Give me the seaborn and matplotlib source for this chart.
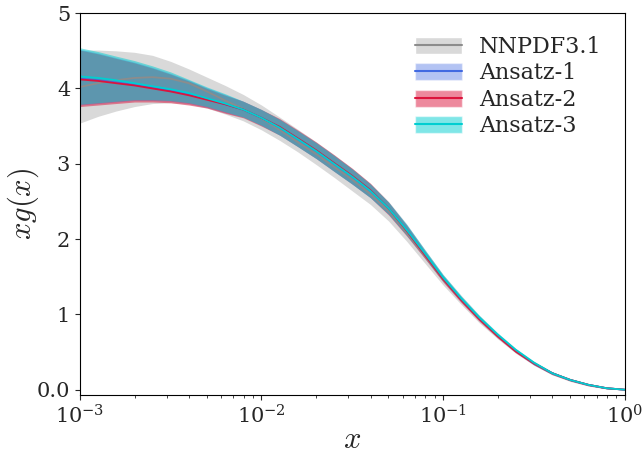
import numpy as np
import pandas as pd
import matplotlib
matplotlib.use("Agg")
import matplotlib.pyplot as plt
import seaborn as sns
from matplotlib.patches import Patch
from matplotlib.lines import Line2D

# x grid (log spaced) and values
x = [0.001, 0.00126, 0.00158, 0.002, 0.00251, 0.00316, 0.00398, 0.00501, 0.00631, 0.00794,
     0.01, 0.0126, 0.0158, 0.02, 0.0251, 0.0316, 0.0398, 0.0501, 0.0631, 0.0794,
     0.1, 0.126, 0.158, 0.2, 0.251, 0.316, 0.398, 0.501, 0.631, 0.794, 1.0]

nnpdf_mid = [4.02, 4.07, 4.11, 4.14, 4.15, 4.13, 4.07, 3.96, 3.84, 3.73, 3.60, 3.45, 3.29, 3.13, 2.96, 2.79,
             2.60, 2.37, 2.08, 1.77, 1.46, 1.19, 0.94, 0.71, 0.51, 0.35, 0.22, 0.13, 0.065, 0.02, 0.0]
nnpdf_up = [4.51, 4.51, 4.50, 4.48, 4.44, 4.36, 4.26, 4.15, 4.04, 3.92, 3.78, 3.62, 3.46, 3.29, 3.12, 2.94,
            2.74, 2.50, 2.20, 1.86, 1.53, 1.25, 0.99, 0.75, 0.545, 0.375, 0.24, 0.15, 0.08, 0.03, 0.0]
nnpdf_lo = [3.54, 3.63, 3.70, 3.76, 3.80, 3.81, 3.79, 3.74, 3.66, 3.57, 3.45, 3.31, 3.16, 2.99, 2.82, 2.64,
            2.46, 2.24, 1.97, 1.68, 1.39, 1.13, 0.89, 0.675, 0.485, 0.325, 0.20, 0.11, 0.05, 0.01, 0.0]

a1_mid = [4.13, 4.11, 4.08, 4.05, 4.01, 3.97, 3.92, 3.86, 3.79, 3.72, 3.61, 3.48, 3.33, 3.17, 3.00, 2.83,
          2.64, 2.41, 2.12, 1.80, 1.48, 1.20, 0.95, 0.72, 0.52, 0.35, 0.22, 0.13, 0.065, 0.02, 0.0]
a1_up = [4.52, 4.47, 4.41, 4.35, 4.28, 4.20, 4.11, 4.01, 3.92, 3.83, 3.72, 3.59, 3.44, 3.28, 3.11, 2.93,
         2.73, 2.49, 2.19, 1.85, 1.52, 1.235, 0.98, 0.745, 0.54, 0.37, 0.235, 0.14, 0.075, 0.025, 0.0]
a1_lo = [3.78, 3.80, 3.82, 3.84, 3.84, 3.83, 3.80, 3.75, 3.68, 3.62, 3.51, 3.38, 3.23, 3.07, 2.90, 2.73,
         2.55, 2.33, 2.05, 1.75, 1.44, 1.165, 0.92, 0.695, 0.50, 0.33, 0.205, 0.12, 0.055, 0.015, 0.0]

a2_mid = [4.12, 4.10, 4.07, 4.04, 4.00, 3.96, 3.91, 3.85, 3.79, 3.72, 3.61, 3.49, 3.34, 3.18, 3.01, 2.84,
          2.65, 2.41, 2.11, 1.79, 1.47, 1.19, 0.94, 0.71, 0.51, 0.35, 0.22, 0.13, 0.065, 0.02, 0.0]
a2_up = [4.51, 4.46, 4.40, 4.34, 4.27, 4.19, 4.10, 4.00, 3.91, 3.83, 3.72, 3.60, 3.45, 3.29, 3.12, 2.94,
         2.74, 2.49, 2.18, 1.84, 1.51, 1.225, 0.97, 0.735, 0.53, 0.37, 0.235, 0.14, 0.075, 0.025, 0.0]
a2_lo = [3.76, 3.78, 3.80, 3.82, 3.82, 3.81, 3.78, 3.74, 3.67, 3.61, 3.50, 3.38, 3.23, 3.07, 2.90, 2.73,
         2.55, 2.32, 2.04, 1.74, 1.43, 1.155, 0.91, 0.685, 0.49, 0.33, 0.20, 0.115, 0.05, 0.012, 0.0]

a3_mid = [4.16, 4.14, 4.11, 4.07, 4.03, 3.99, 3.94, 3.87, 3.80, 3.72, 3.61, 3.48, 3.33, 3.17, 3.00, 2.83,
          2.64, 2.41, 2.12, 1.81, 1.49, 1.21, 0.96, 0.73, 0.53, 0.36, 0.22, 0.13, 0.065, 0.02, 0.0]
a3_up = [4.54, 4.49, 4.43, 4.37, 4.30, 4.22, 4.12, 4.02, 3.93, 3.83, 3.72, 3.59, 3.44, 3.28, 3.11, 2.93,
         2.73, 2.49, 2.19, 1.86, 1.53, 1.245, 0.99, 0.755, 0.55, 0.38, 0.24, 0.14, 0.075, 0.025, 0.0]
a3_lo = [3.79, 3.81, 3.83, 3.85, 3.85, 3.84, 3.81, 3.76, 3.69, 3.62, 3.51, 3.38, 3.23, 3.07, 2.90, 2.73,
         2.55, 2.33, 2.05, 1.76, 1.45, 1.175, 0.93, 0.705, 0.51, 0.34, 0.205, 0.12, 0.055, 0.015, 0.0]

labels = ["NNPDF3.1", "Ansatz-1", "Ansatz-2", "Ansatz-3"]
line_colors = ["#8c8c8c", "royalblue", "crimson", "darkturquoise"]
band_colors = ["#d9d9d9", "royalblue", "crimson", "darkturquoise"]
band_alpha = [1.0, 0.4, 0.5, 0.5]

yticks = [0, 1, 2, 3, 4, 5]
ytick_labels = ["0.0", "1", "2", "3", "4", "5"]

sns.set_style("ticks")
plt.rcParams["font.family"] = ["DejaVu Serif"]
plt.rcParams["mathtext.fontset"] = "dejavuserif"
plt.rcParams["axes.unicode_minus"] = False

mids = [nnpdf_mid, a1_mid, a2_mid, a3_mid]
ups = [nnpdf_up, a1_up, a2_up, a3_up]
los = [nnpdf_lo, a1_lo, a2_lo, a3_lo]

fig = plt.figure(figsize=(6.44, 4.54), dpi=100)
ax = fig.add_axes([0.124, 0.130, 0.846, 0.841])

handles = []
for i, name in enumerate(labels):
    ax.fill_between(x, los[i], ups[i], color=band_colors[i], alpha=band_alpha[i],
                    linewidth=0)
    df = pd.DataFrame({"x": x, "y": mids[i]})
    sns.lineplot(data=df, x="x", y="y", ax=ax, color=line_colors[i], lw=1.3)
    handles.append((Patch(facecolor=band_colors[i], alpha=band_alpha[i]),
                    Line2D([], [], color=line_colors[i], lw=1.5)))

ax.set_xscale("log")
ax.set_xlim(1e-3, 1)
ax.set_ylim(-0.07, 5)
ax.set_yticks(yticks)
ax.set_yticklabels(ytick_labels)
ax.tick_params(labelsize=15)
ax.set_xlabel("$x$", fontsize=22, labelpad=-3, math_fontfamily="cm")
ax.set_ylabel("$xg(x)$", fontsize=22, math_fontfamily="cm")
ax.yaxis.set_label_coords(-0.072, 0.5)
for s in ax.spines.values():
    s.set_color("black")

ax.legend(handles, labels, loc="upper right", fontsize=16, frameon=False,
          handlelength=2.1, handleheight=0.8, labelspacing=0.2,
          bbox_to_anchor=(0.995, 0.993))

fig.savefig("out.png", dpi=100)
